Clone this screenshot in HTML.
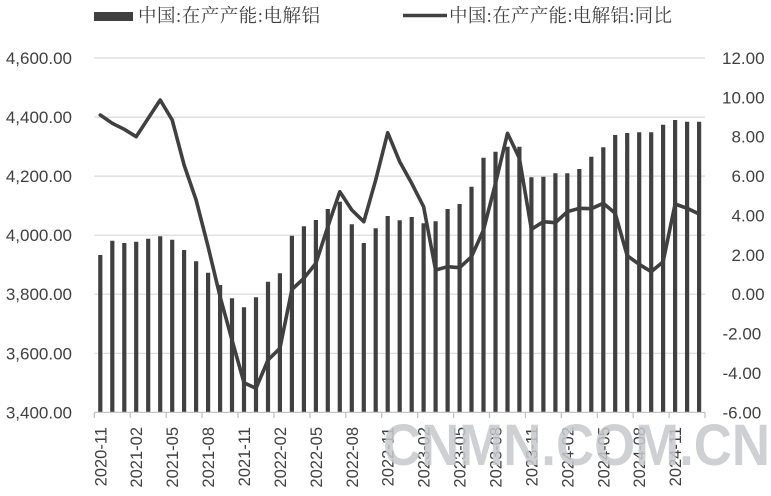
<!DOCTYPE html>
<html><head><meta charset="utf-8"><style>
html,body{margin:0;padding:0;background:#fff;}
svg{display:block;}
.ax{font-family:"Liberation Sans",sans-serif;font-size:17px;fill:#404040;}
.lg{font-family:"Liberation Serif","Noto Serif CJK SC",serif;font-size:18.5px;fill:#404040;}
</style></head><body>
<svg width="771" height="496" viewBox="0 0 771 496" xmlns="http://www.w3.org/2000/svg">
<rect width="771" height="496" fill="#fff"/>
<path stroke="#d9d9d9" stroke-width="1.2" fill="none" d="M94.3 58H705M94.3 117.1H705M94.3 176.1H705M94.3 235.2H705M94.3 294.2H705M94.3 353.3H705"/>
<path stroke="#404040" stroke-width="4.2" fill="none" d="M100.3 412.3V255M112.3 412.3V240.7M124.3 412.3V243M136.2 412.3V241.7M148.2 412.3V238.7M160.2 412.3V236.3M172.2 412.3V239.7M184.1 412.3V250M196.1 412.3V261.3M208.1 412.3V272.7M220.1 412.3V285M232 412.3V298.3M244 412.3V307.3M256 412.3V297.3M268 412.3V281.7M279.9 412.3V273.3M291.9 412.3V235.7M303.9 412.3V226.3M315.9 412.3V220M327.8 412.3V209M339.8 412.3V201.7M351.8 412.3V224.3M363.8 412.3V243M375.7 412.3V228.3M387.7 412.3V216M399.7 412.3V220.3M411.7 412.3V217M423.6 412.3V223.3M435.6 412.3V221.3M447.6 412.3V209M459.6 412.3V204M471.5 412.3V186.7M483.5 412.3V157.7M495.5 412.3V151.7M507.5 412.3V146.7M519.4 412.3V146.7M531.4 412.3V177.3M543.4 412.3V176.7M555.4 412.3V173.3M567.3 412.3V173.3M579.3 412.3V169M591.3 412.3V156.7M603.3 412.3V147.3M615.2 412.3V135M627.2 412.3V133M639.2 412.3V132.3M651.2 412.3V132.3M663.1 412.3V124.7M675.1 412.3V120M687.1 412.3V121.7M699.1 412.3V121.7"/>
<path stroke="#bfbfbf" stroke-width="1.2" fill="none" d="M94.3 412.3H705M94.3 412.3V418M130.2 412.3V418M166.2 412.3V418M202.1 412.3V418M238 412.3V418M273.9 412.3V418M309.9 412.3V418M345.8 412.3V418M381.7 412.3V418M417.6 412.3V418M453.6 412.3V418M489.5 412.3V418M525.4 412.3V418M561.3 412.3V418M597.3 412.3V418M633.2 412.3V418M669.1 412.3V418M705 412.3V418"/>
<polyline fill="none" stroke="#404040" stroke-width="3.6" stroke-linejoin="round" stroke-linecap="round" points="100.3,115 112.3,123.3 124.3,129.3 136.2,136.7 148.2,118.3 160.2,100 172.2,120 184.1,165 196.1,200 208.1,246.7 220.1,296.7 232,340 244,382.7 256,388.3 268,360 279.9,348.3 291.9,289.5 303.9,278.3 315.9,263.3 327.8,226.7 339.8,191.7 351.8,210 363.8,221.7 375.7,180 387.7,132.7 399.7,161.7 411.7,183.3 423.6,206.7 435.6,270 447.6,266.7 459.6,267.7 471.5,256.7 483.5,230 495.5,183.3 507.5,133.3 519.4,158.3 531.4,229.3 543.4,221.7 555.4,222.7 567.3,211.7 579.3,208.3 591.3,208.7 603.3,203.3 615.2,213.3 627.2,255.7 639.2,264.3 651.2,271.7 663.1,261.7 675.1,204 687.1,208.3 699.1,214"/>
<g class="ax" text-anchor="end">
<text x="72" y="64">4,600.00</text>
<text x="72" y="123.1">4,400.00</text>
<text x="72" y="182.1">4,200.00</text>
<text x="72" y="241.2">4,000.00</text>
<text x="72" y="300.2">3,800.00</text>
<text x="72" y="359.3">3,600.00</text>
<text x="72" y="418.3">3,400.00</text>
</g>
<g class="ax">
<text x="722" y="64">12.00</text>
<text x="722" y="103.4">10.00</text>
<text x="731.5" y="142.7">8.00</text>
<text x="731.5" y="182.1">6.00</text>
<text x="731.5" y="221.5">4.00</text>
<text x="731.5" y="260.9">2.00</text>
<text x="731.5" y="300.2">0.00</text>
<text x="722.5" y="339.6">-2.00</text>
<text x="722.5" y="379">-4.00</text>
<text x="722.5" y="418.3">-6.00</text>
</g>
<g class="ax" text-anchor="end" style="font-size:16.5px">
<text transform="translate(106.3,427) rotate(-90)">2020-11</text>
<text transform="translate(142.2,427) rotate(-90)">2021-02</text>
<text transform="translate(178.2,427) rotate(-90)">2021-05</text>
<text transform="translate(214.1,427) rotate(-90)">2021-08</text>
<text transform="translate(250,427) rotate(-90)">2021-11</text>
<text transform="translate(285.9,427) rotate(-90)">2022-02</text>
<text transform="translate(321.9,427) rotate(-90)">2022-05</text>
<text transform="translate(357.8,427) rotate(-90)">2022-08</text>
<text transform="translate(393.7,427) rotate(-90)">2022-11</text>
<text transform="translate(429.6,427) rotate(-90)">2023-02</text>
<text transform="translate(465.6,427) rotate(-90)">2023-05</text>
<text transform="translate(501.5,427) rotate(-90)">2023-08</text>
<text transform="translate(537.4,427) rotate(-90)">2023-11</text>
<text transform="translate(573.3,427) rotate(-90)">2024-02</text>
<text transform="translate(609.3,427) rotate(-90)">2024-05</text>
<text transform="translate(645.2,427) rotate(-90)">2024-08</text>
<text transform="translate(681.1,427) rotate(-90)">2024-11</text>
</g>
<rect x="94" y="12" width="39" height="9" fill="#404040"/>
<text class="lg" x="138" y="22" textLength="182" lengthAdjust="spacing">中国:在产产能:电解铝</text>
<line x1="403" y1="15.5" x2="447" y2="15.5" stroke="#404040" stroke-width="3.5"/>
<text class="lg" x="449" y="22" textLength="223" lengthAdjust="spacing">中国:在产产能:电解铝:同比</text>
<text x="383" y="465" textLength="387" lengthAdjust="spacingAndGlyphs" style="font-family:'Liberation Sans',sans-serif;font-weight:bold;font-size:58px;fill:#c6c8cc;fill-opacity:0.85">CNMN.COM.CN</text>
</svg>
</body></html>
